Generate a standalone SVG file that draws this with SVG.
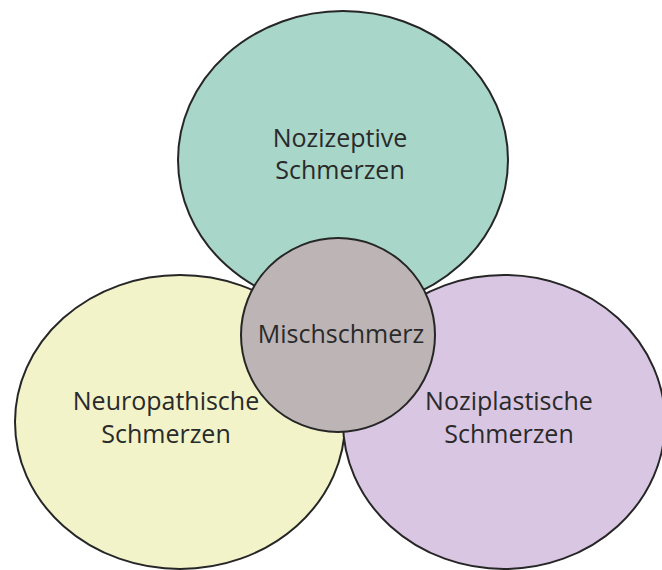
<svg xmlns="http://www.w3.org/2000/svg" width="662" height="570" viewBox="0 0 662 570">
<style>
.c{stroke:#262626;stroke-width:2}
.t{font-family:"Open Sans","Noto Sans",sans-serif;font-size:25px;fill:#2a2a2a;text-anchor:middle}
</style>
<rect width="662" height="570" fill="#ffffff"/>
<g id="nozizeptiv">
<ellipse class="c" cx="343" cy="160" rx="165" ry="149" fill="#a8d6c9"/>
<text class="t" x="340" y="147">Nozizeptive</text>
<text class="t" x="340" y="179">Schmerzen</text>
</g>
<g id="neuropathisch">
<ellipse class="c" cx="180" cy="422" rx="165" ry="147" fill="#f2f3c8"/>
<text class="t" x="166" y="410">Neuropathische</text>
<text class="t" x="166" y="443">Schmerzen</text>
</g>
<g id="noziplastisch">
<ellipse class="c" cx="504" cy="422" rx="161" ry="147" fill="#d9c6e2"/>
<text class="t" x="509" y="410">Noziplastische</text>
<text class="t" x="509" y="443">Schmerzen</text>
</g>
<g id="mischschmerz">
<circle class="c" cx="338" cy="335" r="97" fill="#bdb5b5"/>
<text class="t" x="341" y="343">Mischschmerz</text>
</g>
<g id="connectors"></g>
</svg>
